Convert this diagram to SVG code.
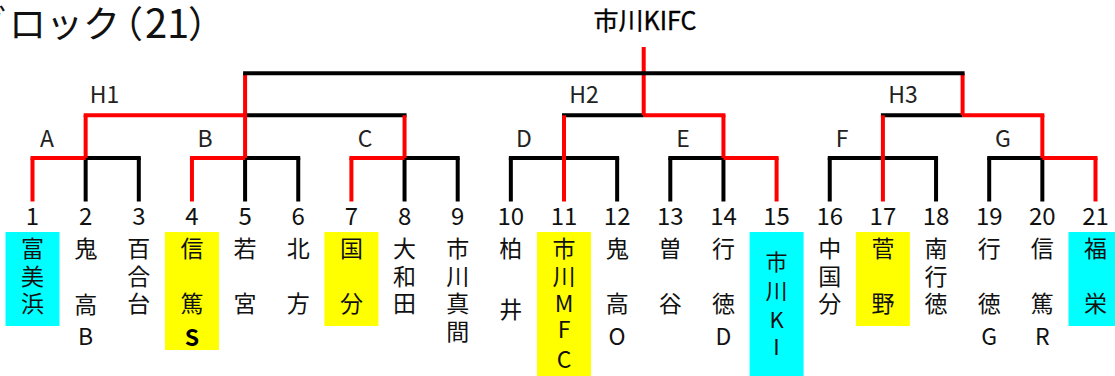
<svg xmlns="http://www.w3.org/2000/svg" width="1115" height="376" viewBox="0 0 1115 376">
<style>
text{font-family:'Noto Sans CJK JP','Noto Sans CJK SC',sans-serif;fill:#111}
.ttl{font-size:37px}
.root{font-size:25px;fill:#000;stroke:#000;stroke-width:0.35}
.lbl{font-size:23px;text-anchor:middle;fill:#222}
.num{font-size:24px;text-anchor:middle}
.nm{font-size:23px;text-anchor:middle}
.nm15{font-size:22px;text-anchor:middle}
.b{stroke:#000;stroke-width:4;fill:none}
.r{stroke:#ff0000;stroke-width:4;fill:none}
.cy{fill:#00ffff}
.ye{fill:#ffff00}
</style>
<rect width="1115" height="376" fill="#fff"/>
<g id="title"><text class="ttl" y="38"><tspan x="-31 9 46 83">ブロック</tspan><tspan x="106">（</tspan><tspan x="145" font-size="40">2</tspan><tspan x="167" font-size="40">1</tspan><tspan x="188">）</tspan></text></g>
<g id="connectors">
<path class="b" d="M85.65 158H140.8M245.1 158H300.25M404.55 158H459.7M508.85 158H619.15M668.3 158H723.45M827.75 158H938.05M987.2 158H1042.35"/>
<path class="b" d="M85.65 158V201.5M138.8 158V201.5M245.1 158V201.5M298.25 158V201.5M404.55 158V201.5M457.7 158V201.5M510.85 158V201.5M617.15 158V201.5M670.3 158V201.5M723.45 158V201.5M829.75 158V201.5M936.05 158V201.5M989.2 158V201.5M1042.35 158V201.5"/>
<path class="b" d="M245.1 115.3H406.55M562 115.3H643.7M880.9 115.3H962.6"/>
<path class="r" d="M83.65 115.3H245.1M643.7 115.3H725.45M962.6 115.3H1044.35"/>
<path class="r" d="M85.65 115.3V158M245.1 73.3V158M404.55 115.3V158M564 115.3V201.5M723.45 115.3V158M882.9 115.3V201.5M962.6 73.3V115.3M1042.35 115.3V158M643.7 47V115.3"/>
<path class="r" d="M30.5 158H85.65M189.95 158H245.1M349.4 158H404.55M723.45 158H778.6M1042.35 158H1097.5"/>
<path class="r" d="M32.5 158V201.5M191.95 158V201.5M351.4 158V201.5M776.6 158V201.5M1095.5 158V201.5"/>
<path class="b" d="M243.1 73.3H964.6"/>
</g>
<g id="root"><text class="root" x="645" y="30" text-anchor="middle">市川KIFC</text></g>
<g id="H1"><text class="lbl" x="104.5" y="103">H1</text></g>
<g id="H2"><text class="lbl" x="584" y="103">H2</text></g>
<g id="H3"><text class="lbl" x="903" y="103">H3</text></g>
<g id="A"><text class="lbl" x="47" y="146.7">A</text></g>
<g id="B"><text class="lbl" x="205" y="146.7">B</text></g>
<g id="C"><text class="lbl" x="365" y="146.7">C</text></g>
<g id="D"><text class="lbl" x="524" y="146.7">D</text></g>
<g id="E"><text class="lbl" x="683" y="146.7">E</text></g>
<g id="F"><text class="lbl" x="842" y="146.7">F</text></g>
<g id="G"><text class="lbl" x="1003" y="146.7">G</text></g>

<g id="t1"><rect class="cy" x="5.5" y="232" width="54" height="94"/><text class="num" x="32.5" y="225">1</text><text class="nm"><tspan x="32.5" y="256.7">富</tspan><tspan x="32.5" y="284.5">美</tspan><tspan x="32.5" y="312">浜</tspan></text></g>
<g id="t2"><text class="num" x="85.65" y="225">2</text><text class="nm"><tspan x="85.65" y="256.7">鬼</tspan><tspan x="85.65" y="312.5">高</tspan><tspan x="85.65" y="345">B</tspan></text></g>
<g id="t3"><text class="num" x="138.8" y="225">3</text><text class="nm"><tspan x="138.8" y="256.7">百</tspan><tspan x="138.8" y="284.5">合</tspan><tspan x="138.8" y="312">台</tspan></text></g>
<g id="t4"><rect class="ye" x="164.95" y="232" width="54" height="118"/><text class="num" x="191.95" y="225">4</text><text class="nm"><tspan x="191.95" y="256.7">信</tspan><tspan x="191.95" y="312">篤</tspan><tspan x="191.95" y="346" font-weight="bold" fill="#000">S</tspan></text></g>
<g id="t5"><text class="num" x="245.1" y="225">5</text><text class="nm"><tspan x="245.1" y="256.7">若</tspan><tspan x="245.1" y="312">宮</tspan></text></g>
<g id="t6"><text class="num" x="298.25" y="225">6</text><text class="nm"><tspan x="298.25" y="256.7">北</tspan><tspan x="298.25" y="312">方</tspan></text></g>
<g id="t7"><rect class="ye" x="324.4" y="232" width="54" height="94"/><text class="num" x="351.4" y="225">7</text><text class="nm"><tspan x="351.4" y="256.7">国</tspan><tspan x="351.4" y="312">分</tspan></text></g>
<g id="t8"><text class="num" x="404.55" y="225">8</text><text class="nm"><tspan x="404.55" y="256.7">大</tspan><tspan x="404.55" y="284.5">和</tspan><tspan x="404.55" y="312">田</tspan></text></g>
<g id="t9"><text class="num" x="457.7" y="225">9</text><text class="nm"><tspan x="457.7" y="256.7">市</tspan><tspan x="457.7" y="284.5">川</tspan><tspan x="457.7" y="312">真</tspan><tspan x="457.7" y="340">間</tspan></text></g>
<g id="t10"><text class="num" x="510.85" y="225">10</text><text class="nm"><tspan x="510.85" y="256.7">柏</tspan><tspan x="510.85" y="318.4">井</tspan></text></g>
<g id="t11"><rect class="ye" x="537" y="232" width="54" height="144"/><text class="num" x="564" y="225">11</text><text class="nm"><tspan x="564" y="256.7">市</tspan><tspan x="564" y="284.5">川</tspan><tspan x="564" y="311.7">M</tspan><tspan x="564" y="338.3">F</tspan><tspan x="564" y="367.8">C</tspan></text></g>
<g id="t12"><text class="num" x="617.15" y="225">12</text><text class="nm"><tspan x="617.15" y="256.7">鬼</tspan><tspan x="617.15" y="312">高</tspan><tspan x="617.15" y="344.5">O</tspan></text></g>
<g id="t13"><text class="num" x="670.3" y="225">13</text><text class="nm"><tspan x="670.3" y="256.7">曽</tspan><tspan x="670.3" y="312">谷</tspan></text></g>
<g id="t14"><text class="num" x="723.45" y="225">14</text><text class="nm"><tspan x="723.45" y="256.7">行</tspan><tspan x="723.45" y="312">徳</tspan><tspan x="723.45" y="345">D</tspan></text></g>
<g id="t15"><rect class="cy" x="749.6" y="232" width="54" height="144"/><text class="num" x="776.6" y="225">15</text><text class="nm15"><tspan x="776.6" y="270.2">市</tspan><tspan x="776.6" y="298.5">川</tspan><tspan x="776.6" y="328.3">K</tspan><tspan x="776.6" y="355">I</tspan></text></g>
<g id="t16"><text class="num" x="829.75" y="225">16</text><text class="nm"><tspan x="829.75" y="256.7">中</tspan><tspan x="829.75" y="284.5">国</tspan><tspan x="829.75" y="312">分</tspan></text></g>
<g id="t17"><rect class="ye" x="855.9" y="232" width="54" height="94"/><text class="num" x="882.9" y="225">17</text><text class="nm"><tspan x="882.9" y="256.7">菅</tspan><tspan x="882.9" y="312">野</tspan></text></g>
<g id="t18"><text class="num" x="936.05" y="225">18</text><text class="nm"><tspan x="936.05" y="256.7">南</tspan><tspan x="936.05" y="284.5">行</tspan><tspan x="936.05" y="312">徳</tspan></text></g>
<g id="t19"><text class="num" x="989.2" y="225">19</text><text class="nm"><tspan x="989.2" y="256.7">行</tspan><tspan x="989.2" y="312">徳</tspan><tspan x="989.2" y="345">G</tspan></text></g>
<g id="t20"><text class="num" x="1042.35" y="225">20</text><text class="nm"><tspan x="1042.35" y="256.7">信</tspan><tspan x="1042.35" y="312">篤</tspan><tspan x="1042.35" y="345">R</tspan></text></g>
<g id="t21"><rect class="cy" x="1068.5" y="232" width="54" height="94"/><text class="num" x="1095.5" y="225">21</text><text class="nm"><tspan x="1095.5" y="256.7">福</tspan><tspan x="1095.5" y="312">栄</tspan></text></g>
</svg>
